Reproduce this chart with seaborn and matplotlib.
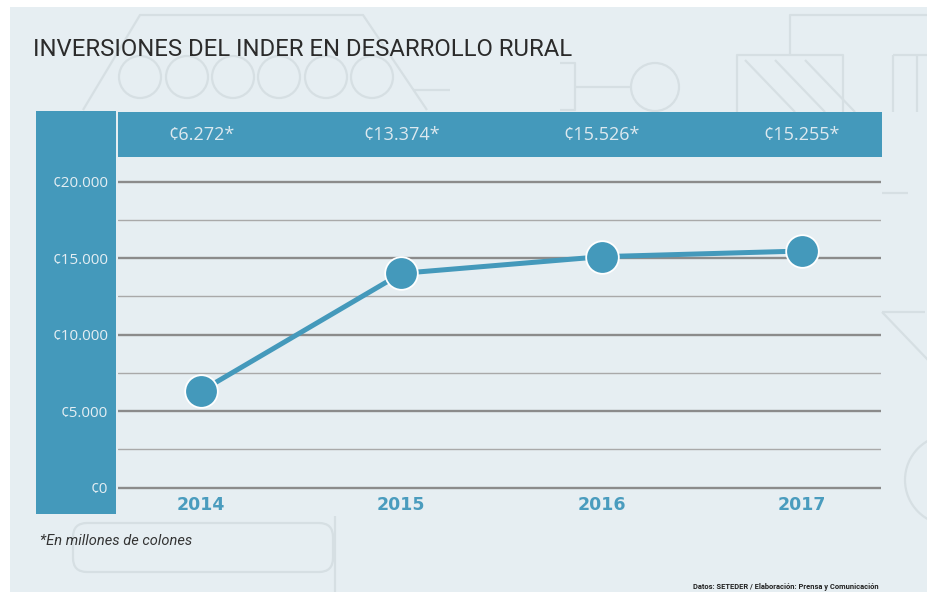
import matplotlib
matplotlib.use("Agg")
import matplotlib.pyplot as plt
import matplotlib.patches as mpatches
import seaborn as sns
import pandas as pd

# data
years = ["2014", "2015", "2016", "2017"]
plotted = [6320, 14010, 15100, 15470]          # where the points sit in the picture
band_labels = ["¢6.272*", "¢13.374*", "¢15.526*", "¢15.255*"]
y_ticks = [0, 5000, 10000, 15000, 20000]
y_tick_labels = ["¢0", "¢5.000", "¢10.000", "¢15.000", "¢20.000"]

BLUE = "#4499bb"
BG = "#e6eef2"
DECO = "#d6dfe3"

sns.set_style("white")
plt.rcParams["font.family"] = ["Open Sans", "DejaVu Sans"]

W, H = 928, 592
fig = plt.figure(figsize=(W / 100, H / 100), dpi=100, facecolor="white")

# background layer in pixel coords
bg = fig.add_axes([0, 0, 1, 1], zorder=0)
bg.set_xlim(0, W)
bg.set_ylim(H, 0)
bg.axis("off")
bg.add_patch(mpatches.Rectangle((10, 7), W, H, color=BG, lw=0, zorder=0))

def dl(xs, ys):
    bg.plot(xs, ys, color=DECO, lw=1.6, solid_capstyle="butt", zorder=1)

for cx in [140, 187, 233, 279, 326, 372]:
    bg.add_patch(mpatches.Circle((cx, 77), 21, fill=False, ec=DECO, lw=1.6, zorder=1))
dl([83, 140, 363, 427], [110, 15, 15, 110])
dl([413, 450], [90, 90])
dl([560, 575, 575, 560], [63, 63, 110, 110])
dl([575, 632], [87, 87])
bg.add_patch(mpatches.Circle((655, 87), 24, fill=False, ec=DECO, lw=1.6, zorder=1))
dl([790, 790, 928], [55, 15, 15])
dl([737, 737, 843, 843], [112, 55, 55, 112])
for off in [0, 30, 60]:
    dl([745 + off, 795 + off], [60, 112])
dl([893, 928], [55, 55])
dl([893, 893], [55, 112])
dl([917, 917], [55, 112])
bg.add_patch(mpatches.Arc((630, -40), 180, 130, theta1=200, theta2=340, ec=DECO, lw=1.6, zorder=1))
dl([882, 925], [312, 312])
dl([882, 928], [312, 360])
dl([882, 908], [193, 193])
bg.add_patch(mpatches.Circle((950, 480), 45, fill=False, ec=DECO, lw=1.6, zorder=1))
bg.add_patch(mpatches.FancyBboxPatch((73, 523), 260, 49, boxstyle="round,pad=0,rounding_size=14",
                                     fill=False, ec=DECO, lw=1.6, zorder=1))
dl([335, 335], [516, 592])

# blue bar on the left and band on top
bg.add_patch(mpatches.Rectangle((36, 111), 80, 403, color=BLUE, lw=0, zorder=3))
bg.add_patch(mpatches.Rectangle((118, 112), 764, 45, color=BLUE, lw=0, zorder=3))

# main axes
ax_l, ax_r, ax_t, ax_b = 118, 881, 170, 495
ax = fig.add_axes([ax_l / W, 1 - ax_b / H, (ax_r - ax_l) / W, (ax_b - ax_t) / H], zorder=2)
ax.set_facecolor("none")

df = pd.DataFrame({"pos": range(len(years)), "value": plotted})
sns.lineplot(data=df, x="pos", y="value", ax=ax, color=BLUE, lw=3.6,
             marker="o", markersize=23.5, markerfacecolor=BLUE,
             markeredgecolor="white", markeredgewidth=1.3, zorder=5)

px_per = 306 / 20000
ax.set_ylim(-(ax_b - 487.7) / px_per, 20000 + (181.7 - ax_t) / px_per)
ax.set_xlim(-0.415, 3.395)

ax.set_yticks(y_ticks)
ax.set_yticklabels(y_tick_labels)
ax.set_yticks([2500, 7500, 12500, 17500], minor=True)
ax.grid(True, which="major", axis="y", color="#8b8b8b", lw=1.7)
ax.grid(True, which="minor", axis="y", color="#a9a9a9", lw=1.0)
ax.set_axisbelow(True)

ax.set_xticks(range(len(years)))
ax.set_xticklabels(years)
ax.tick_params(axis="y", which="both", length=0, pad=7, labelcolor="#e4eef3", labelsize=11)
ax.tick_params(axis="x", length=0, pad=1, labelcolor="#4a9cbe", labelsize=12.5)
for t in ax.get_xticklabels():
    t.set_fontfamily("DejaVu Sans")
    t.set_fontweight("bold")
ax.set_xlabel("")
ax.set_ylabel("")
for s in ax.spines.values():
    s.set_visible(False)

# values in the top band
band_y = (H - 134.5 - (H - ax_b)) / (ax_b - ax_t)
for i, lab in enumerate(band_labels):
    ax.text(i, band_y, lab, transform=ax.get_xaxis_transform(), ha="center", va="center",
            color="#dde9ef", fontsize=13, clip_on=False)

# texts
fig.text(33 / W, 1 - 50 / H, "INVERSIONES DEL INDER EN DESARROLLO RURAL", family="Roboto",
         fontsize=17.2, color="#2b2b2b", ha="left", va="center")
fig.text(40 / W, 1 - 541 / H, "*En millones de colones", family="Roboto", style="italic",
         fontsize=10.5, color="#333333", ha="left", va="center")
fig.text(879 / W, 1 - 587 / H, "Datos: SETEDER / Elaboración: Prensa y Comunicación",
         family="Roboto", weight="bold", fontsize=5.4, color="#222222", ha="right", va="center")

fig.savefig("out.png", dpi=100, facecolor="white")
